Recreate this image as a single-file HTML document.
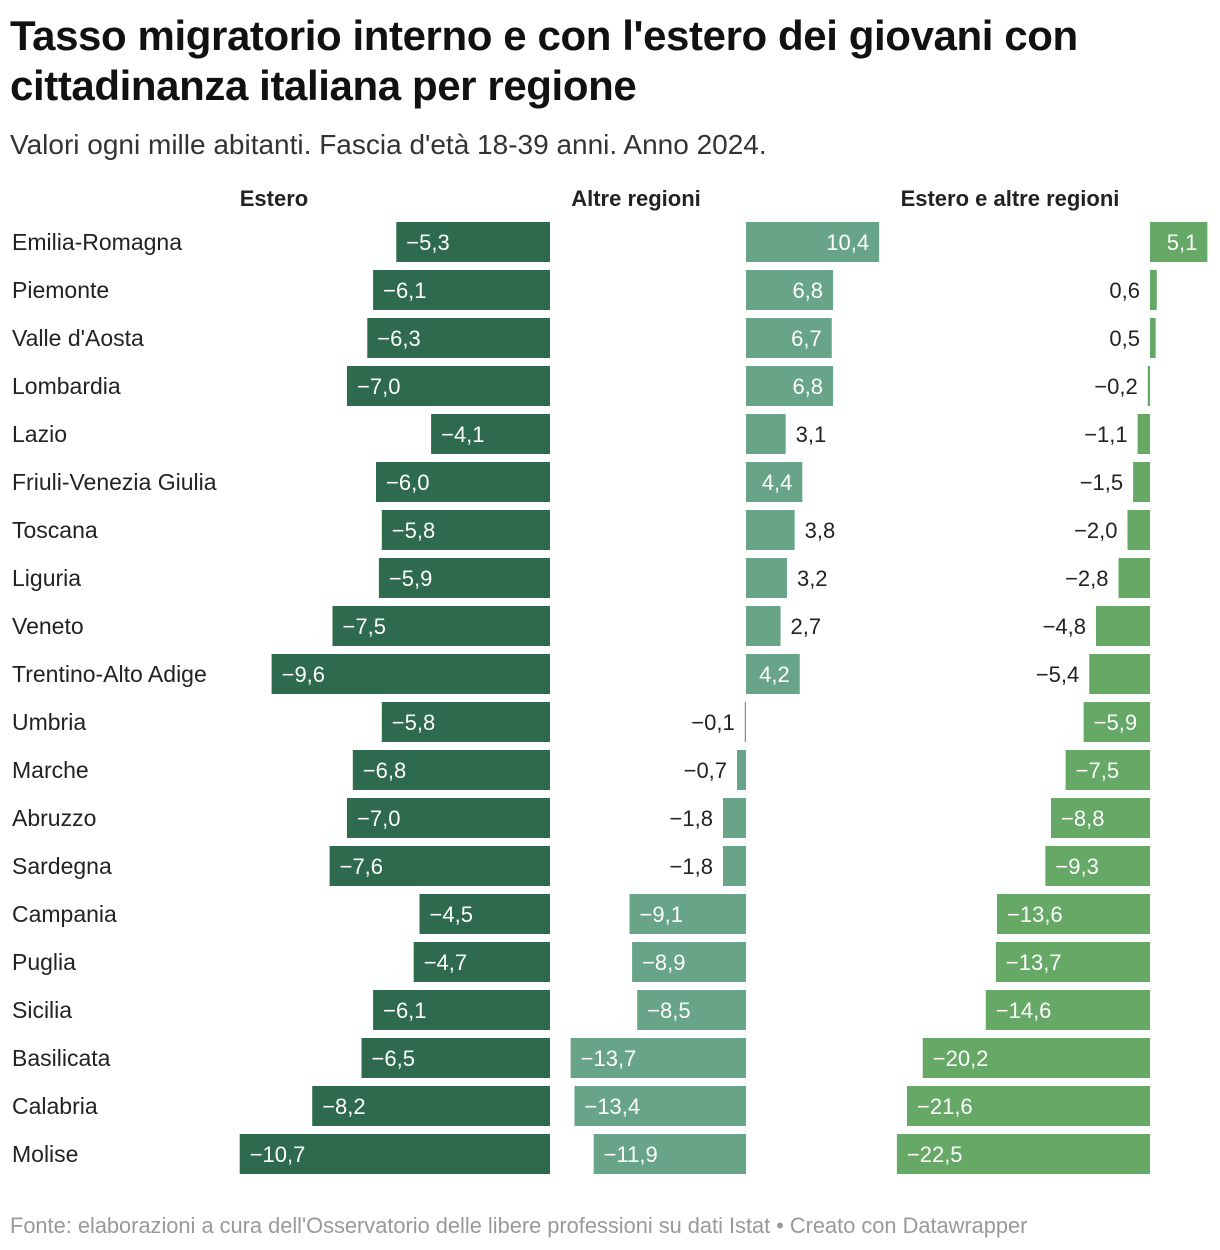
<!DOCTYPE html>
<html><head><meta charset="utf-8">
<style>
body{margin:0;background:#fff;width:1220px;height:1250px;overflow:hidden;font-family:"Liberation Sans",sans-serif;color:#222}
h1{position:absolute;left:10px;top:11px;margin:0;font-size:42px;line-height:50px;font-weight:bold;letter-spacing:-0.4px;color:#111}
.sub{position:absolute;left:10px;top:129px;font-size:28px;color:#333}
.foot{position:absolute;left:10px;top:1213px;font-size:21.8px;color:#999}
svg{position:absolute;left:0;top:0}
</style></head><body>
<h1>Tasso migratorio interno e con l'estero dei giovani con<br>cittadinanza italiana per regione</h1>
<div class="sub">Valori ogni mille abitanti. Fascia d'età 18-39 anni. Anno 2024.</div>
<svg id="chart" width="1220" height="1250"></svg>
<div class="foot">Fonte: elaborazioni a cura dell'Osservatorio delle libere professioni su dati Istat • Creato con Datawrapper</div>
<script>
const regions=["Emilia-Romagna","Piemonte","Valle d'Aosta","Lombardia","Lazio","Friuli-Venezia Giulia","Toscana","Liguria","Veneto","Trentino-Alto Adige","Umbria","Marche","Abruzzo","Sardegna","Campania","Puglia","Sicilia","Basilicata","Calabria","Molise"];
const estero=[-5.3,-6.1,-6.3,-7.0,-4.1,-6.0,-5.8,-5.9,-7.5,-9.6,-5.8,-6.8,-7.0,-7.6,-4.5,-4.7,-6.1,-6.5,-8.2,-10.7];
const altre=[10.4,6.8,6.7,6.8,3.1,4.4,3.8,3.2,2.7,4.2,-0.1,-0.7,-1.8,-1.8,-9.1,-8.9,-8.5,-13.7,-13.4,-11.9];
const totale=[5.1,0.6,0.5,-0.2,-1.1,-1.5,-2.0,-2.8,-4.8,-5.4,-5.9,-7.5,-8.8,-9.3,-13.6,-13.7,-14.6,-20.2,-21.6,-22.5];
const headers=["Estero","Altre regioni","Estero e altre regioni"];
const NS="http://www.w3.org/2000/svg";
const svg=document.getElementById('chart');
const cols=[
 {data:estero,zero:550,scale:29,color:"#2e6a4d",hx:274,name:"estero"},
 {data:altre,zero:746,scale:12.8,color:"#68a588",hx:636,name:"altre-regioni"},
 {data:totale,zero:1150,scale:11.25,color:"#66a866",hx:1010,name:"totale",edge:true}
];
const cv=document.createElement('canvas').getContext('2d');
cv.font='22px "Liberation Sans"';
function fmt(v){return (v<0?'\u2212':'')+Math.abs(v).toFixed(1).replace('.',',');}
function txt(x,y,s,anchor,fill,size,weight){
 const t=document.createElementNS(NS,'text');
 t.setAttribute('x',x);t.setAttribute('y',y);t.setAttribute('text-anchor',anchor);
 t.setAttribute('fill',fill);t.setAttribute('font-size',size);
 if(weight)t.setAttribute('font-weight',weight);
 t.textContent=s;svg.appendChild(t);return t;
}
const rowY=i=>222+i*48, barH=40;
cols.forEach((c,ci)=>{
 const h=txt(c.hx,206,headers[ci],'middle','#222',22,'bold');
 
 
});
regions.forEach((r,i)=>{
 const t=txt(12,249,r,'start','#222',23);
 t.setAttribute('y',rowY(i)+28);
 
 
 cols.forEach(c=>{
  const v=c.data[i];const w=Math.abs(v)*c.scale;
  const x=v<0?c.zero-w:c.zero;
  const b=document.createElementNS(NS,'rect');
  b.setAttribute('x',x);b.setAttribute('y',rowY(i));b.setAttribute('width',Math.max(w,1.2));b.setAttribute('height',barH);b.setAttribute('fill',c.color);
  
  
  svg.appendChild(b);
  const s=fmt(v);const tw=cv.measureText(s).width;const ty=rowY(i)+28;
  let l;
  if(w>tw+21){
   l=v<0?txt(x+10,ty,s,'start','#fff',22):txt(x+w-10,ty,s,'end','#fff',22);
  }else{
   if(v<0||c.edge) l=txt(x-10,ty,s,'end','#222',22);
   else l=txt(x+w+10,ty,s,'start','#222',22);
  }
  
  
 });
});
</script>
</body></html>
